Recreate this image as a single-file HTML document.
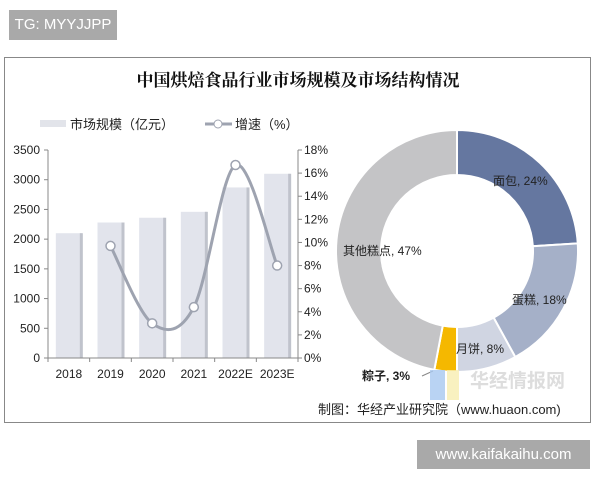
<!DOCTYPE html>
<html><head><meta charset="utf-8"><style>
body{margin:0;width:600px;height:480px;background:#fff;position:relative;overflow:hidden;font-family:"Liberation Sans","Noto Sans CJK SC",sans-serif}
.abs{position:absolute}
</style></head><body>
<div class="abs" style="left:9px;top:10px;width:108px;height:30px;background:#a9a9a9;color:#fff;font-size:15px;line-height:30px;text-align:center">TG: MYYJJPP</div>
<div class="abs" style="left:4px;top:57px;width:585px;height:364px;border:1px solid #888"></div>
<div class="abs" style="left:417px;top:440px;width:173px;height:29px;background:#a9a9a9;color:#fff;font-size:15px;line-height:29px;text-align:center">www.kaifakaihu.com</div>
<svg class="abs" style="left:0;top:0" width="600" height="480" id="svg">
<text x="298" y="86" text-anchor="middle" font-size="17" font-weight="bold" font-family="Liberation Serif,Noto Serif CJK SC,serif" fill="#111">中国烘焙食品行业市场规模及市场结构情况</text>
<g>
<rect x="40" y="120" width="26" height="7" fill="#e2e4ea"/>
<text x="70" y="129" font-size="13" fill="#222">市场规模（亿元）</text>
<line x1="205" y1="124" x2="232" y2="124" stroke="#9ea3b0" stroke-width="3"/>
<circle cx="218" cy="124" r="4" fill="#fff" stroke="#9ea3b0"/>
<text x="235" y="129" font-size="13" fill="#222">增速（%）</text>
</g>
<g id="bars"></g><g id="axes"></g><g id="line"></g><g id="donut"></g>
<text x="343" y="255" font-size="12" fill="#222">其他糕点, 47%</text>
<text x="493" y="185" font-size="12" fill="#222">面包, 24%</text>
<text x="512" y="304" font-size="12" fill="#222">蛋糕, 18%</text>
<text x="456" y="353" font-size="12" fill="#222">月饼, 8%</text>
<text x="362" y="380" font-size="12" font-weight="bold" fill="#222">粽子, 3%</text>
<line x1="422" y1="376" x2="433" y2="371" stroke="#888"/>
<rect x="430" y="370" width="15" height="30" fill="#a8c8f0" opacity="0.8"/>
<rect x="447" y="370" width="12" height="30" fill="#f8eeb0" opacity="0.8"/>
<text x="470" y="387" font-size="19" font-weight="bold" fill="#ddd">华经情报网</text>
<text x="318" y="414" font-size="13" fill="#222">制图：华经产业研究院（www.huaon.com)</text>
</svg>
<script>
const categories=["2018","2019","2020","2021","2022E","2023E"];
const marketSize=[2100,2280,2360,2460,2870,3100];
const growth=[null,9.7,3.0,4.4,16.7,8.0];
const leftTicks=[0,500,1000,1500,2000,2500,3000,3500];
const rightTicks=[0,2,4,6,8,10,12,14,16,18];
const shareLabels=["面包","蛋糕","月饼","粽子","其他糕点"];
const shareValues=[24,18,8,3,47];
const shareColors=["#6577a0","#a5b0c8","#d0d5e2","#f5b800","#c4c4c6"];
const NS="http://www.w3.org/2000/svg";
function mk(t,a,p){const e=document.createElementNS(NS,t);for(const k in a)e.setAttribute(k,a[k]);p.appendChild(e);return e;}
const X0=48,X1=298,Y0=358,Y1=150;
const step=(X1-X0)/categories.length;
const xc=i=>X0+step*(i+0.5);
const yL=v=>Y0-(v/3500)*(Y0-Y1);
const yR=v=>Y0-(v/18)*(Y0-Y1);
const bars=document.getElementById('bars'),axes=document.getElementById('axes'),line=document.getElementById('line');
marketSize.forEach((v,i)=>{
 const r=mk('rect',{x:xc(i)-13,y:yL(v),width:26,height:Y0-yL(v),fill:'#e2e4ec'},bars);
 
 
 mk('rect',{x:xc(i)+11,y:yL(v),width:3,height:Y0-yL(v),fill:'#c0c3cc'},bars);
});
mk('line',{x1:X0,y1:Y1,x2:X0,y2:Y0,stroke:'#888'},axes);
mk('line',{x1:X1,y1:Y1,x2:X1,y2:Y0,stroke:'#888'},axes);
mk('line',{x1:X0,y1:Y0,x2:X1,y2:Y0,stroke:'#888'},axes);
leftTicks.forEach(t=>{
 mk('line',{x1:X0-4,y1:yL(t),x2:X0,y2:yL(t),stroke:'#888'},axes);
 const e=mk('text',{x:X0-8,y:yL(t)+4,'text-anchor':'end','font-size':12,fill:'#222'},axes);e.textContent=t;
 
 
});
rightTicks.forEach(t=>{
 mk('line',{x1:X1,y1:yR(t),x2:X1+4,y2:yR(t),stroke:'#888'},axes);
 const e=mk('text',{x:X1+6,y:yR(t)+4,'font-size':12,fill:'#222'},axes);e.textContent=t+'%';
 
 
});
categories.forEach((c,i)=>{
 mk('line',{x1:X0+step*i,y1:Y0,x2:X0+step*i,y2:Y0+4,stroke:'#888'},axes);
 const e=mk('text',{x:xc(i),y:Y0+20,'text-anchor':'middle','font-size':12,fill:'#222'},axes);e.textContent=c;
 
 
});
mk('line',{x1:X1,y1:Y0,x2:X1,y2:Y0+4,stroke:'#888'},axes);
const pts=[];growth.forEach((g,i)=>{if(g!==null)pts.push([xc(i),yR(g)]);});
let d='M'+pts[0][0]+','+pts[0][1];
for(let i=0;i<pts.length-1;i++){
 const p0=pts[i-1]||pts[i],p1=pts[i],p2=pts[i+1],p3=pts[i+2]||p2;
 d+=` C${p1[0]+(p2[0]-p0[0])/6},${p1[1]+(p2[1]-p0[1])/6} ${p2[0]-(p3[0]-p1[0])/6},${p2[1]-(p3[1]-p1[1])/6} ${p2[0]},${p2[1]}`;
}
const pl=mk('path',{d:d,fill:'none',stroke:'#9ea3b0','stroke-width':3},line);


pts.forEach(p=>{const c=mk('circle',{cx:p[0],cy:p[1],r:4.5,fill:'#fff',stroke:'#9ea3b0','stroke-width':1.5},line);
 
 });
const donut=document.getElementById('donut');
const cx=457,cy=251,R=121,r=76;
const tot=shareValues.reduce((a,b)=>a+b,0);let a0=0;
shareValues.forEach((v,i)=>{
 const a1=a0+v/tot*2*Math.PI;
 const P=(rad,a)=>[cx+rad*Math.sin(a),cy-rad*Math.cos(a)];
 const [x1,y1]=P(R,a0),[x2,y2]=P(R,a1),[x3,y3]=P(r,a1),[x4,y4]=P(r,a0);
 const lg=(a1-a0)>Math.PI?1:0;
 const s=mk('path',{d:`M${x1},${y1}A${R},${R} 0 ${lg} 1 ${x2},${y2}L${x3},${y3}A${r},${r} 0 ${lg} 0 ${x4},${y4}Z`,fill:shareColors[i],stroke:'#fff','stroke-width':2},donut);
 
 
 a0=a1;
});
</script>
</body></html>
